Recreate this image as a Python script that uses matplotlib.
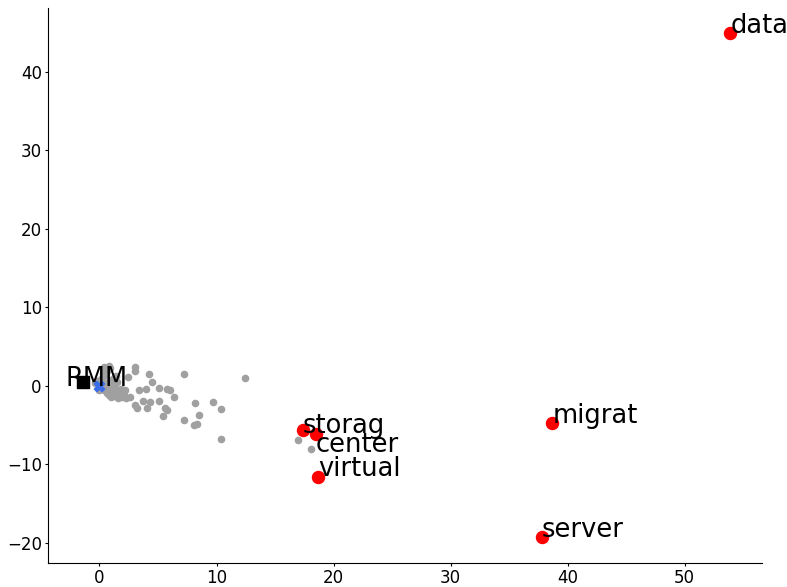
import matplotlib
matplotlib.use('Agg')
import matplotlib.pyplot as plt

# background words (gray)
gray_x = [0.85, 3.0, 3.0, 4.2, 7.2, 12.4, 2.4, 4.5, 5.1, 5.8, 4.0, 3.4, 6.4, 6.0,
          8.2, 9.7, 10.4, 5.1, 3.7, 4.3, 3.0, 3.2, 4.1, 5.6, 5.8, 5.4, 7.2, 8.5,
          8.1, 8.3, 10.4, 2.6, 2.3, 17.0, 18.1,
          -0.4, -0.2, 0.1, 0.3, 0.5, 0.7, 0.9, 1.1, 1.3, 1.5, 1.7, 1.9, 2.1,
          0.2, 0.4, 0.6, 0.8, 1.0, 1.2, 1.4, 1.6, 1.8, 2.0, 0.3, 0.6, 0.9,
          1.2, 1.5, 0.0, 0.5, 1.0, 1.4, 0.7, 1.1, 0.8, 1.3, 1.6, 2.2, 0.4]
gray_y = [2.5, 2.4, 1.9, 1.5, 1.5, 1.0, 1.1, 0.5, -0.3, -0.4, -0.4, -0.6, -1.4, -0.5,
          -2.2, -2.1, -3.0, -1.9, -1.9, -2.1, -2.5, -2.8, -2.8, -2.9, -3.1, -3.9, -4.4, -3.8,
          -5.0, -4.9, -6.8, -1.4, -1.6, -6.9, -8.1,
          0.3, 0.6, 0.9, 1.2, 0.2, 0.5, 0.1, -0.2, -0.5, -0.8, -1.1, -1.4, -1.2,
          -0.3, -0.6, -0.9, -1.2, -1.5, -1.3, -1.0, -0.7, -0.4, -0.9, 1.6, 1.9, 2.2,
          1.0, 0.4, -0.5, 1.4, 0.7, 1.2, -0.1, 0.2, -1.0, -0.3, -1.6, -0.6, 2.4]

# highlighted words (red) and where their labels sit
words = ['data', 'migrat', 'storag', 'center', 'virtual', 'server']
word_x = [53.9, 38.7, 17.35, 18.5, 18.7, 37.8]
word_y = [45.0, -4.8, -5.7, -6.2, -11.6, -19.3]
label_x = [53.9, 38.7, 17.35, 18.5, 18.7, 37.8]
label_y = [45.0, -4.8, -6.0, -8.4, -11.5, -19.3]

# centroid / RMM
rmm_x, rmm_y = -1.45, 0.4
center_x, center_y = 0.0, 0.0

fig, ax = plt.subplots(figsize=(7.87, 5.87), dpi=100)

ax.scatter(gray_x, gray_y, s=20, color='#a0a0a0', zorder=1)
ax.scatter(word_x, word_y, s=75, color='red', zorder=3)
for w, x, y in zip(words, label_x, label_y):
    ax.text(x, y, w, fontsize=18.5, zorder=4)

ax.scatter([rmm_x], [rmm_y], s=65, marker='s', color='black', zorder=3)
ax.scatter([center_x], [center_y], s=55, marker='X', color='#3a6ee8', zorder=3)
ax.text(-2.9, 0.0, 'RMM', fontsize=18.5, zorder=4)

ax.set_xlim(-4.4, 56.6)
ax.set_ylim(-22.6, 48.1)
ax.set_xticks([0, 10, 20, 30, 40, 50])
ax.set_yticks([-20, -10, 0, 10, 20, 30, 40])
ax.tick_params(labelsize=12, length=2.5, pad=2)
ax.spines['top'].set_visible(False)
ax.spines['right'].set_visible(False)

plt.subplots_adjust(left=0.061, right=0.968, top=0.986, bottom=0.041)
plt.savefig('out.png', dpi=100)
